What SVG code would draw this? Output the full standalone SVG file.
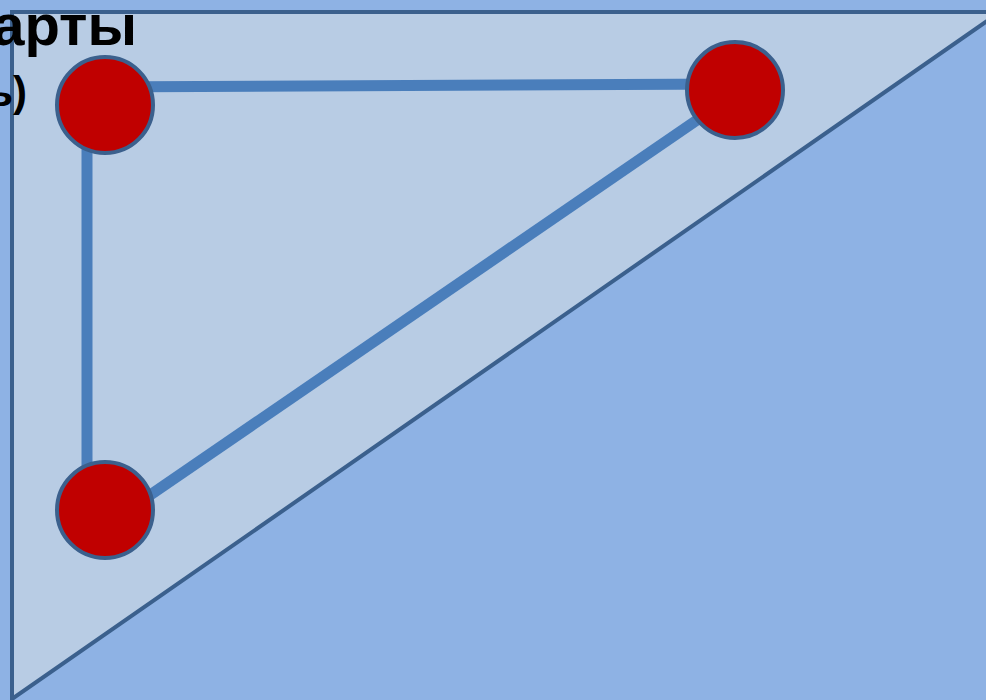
<svg xmlns="http://www.w3.org/2000/svg" width="986" height="700" viewBox="0 0 986 700">
<style>
.bg{fill:#8EB2E4}
.tri{fill:#B8CCE4;stroke:#3B608D;stroke-width:4;stroke-linejoin:miter}
.edge{stroke:#4A7EBB;stroke-width:11;fill:none;stroke-linecap:butt}
.node{fill:#C00000;stroke:#3B608D;stroke-width:4}
.t{font-family:"Liberation Sans",Arial,sans-serif;font-weight:bold;fill:#000}
</style>
<rect class="bg" x="0" y="0" width="986" height="700"/>
<polygon class="tri" points="12,12 1000,12 12,699"/>
<text class="t" x="137" y="45" font-size="58" text-anchor="end">арты</text>
<text class="t" x="27" y="106" font-size="42" text-anchor="end">ь)</text>
<g id="connectors">
<line class="edge" x1="87" y1="87" x2="735" y2="84"/>
<line class="edge" x1="87" y1="87" x2="87" y2="510"/>
<line class="edge" x1="105" y1="526" x2="735" y2="94"/>
</g>
<g id="node1"><circle class="node" cx="105" cy="105" r="48"/></g>
<g id="node2"><circle class="node" cx="735" cy="90" r="48"/></g>
<g id="node3"><circle class="node" cx="105" cy="510" r="48"/></g>
</svg>
